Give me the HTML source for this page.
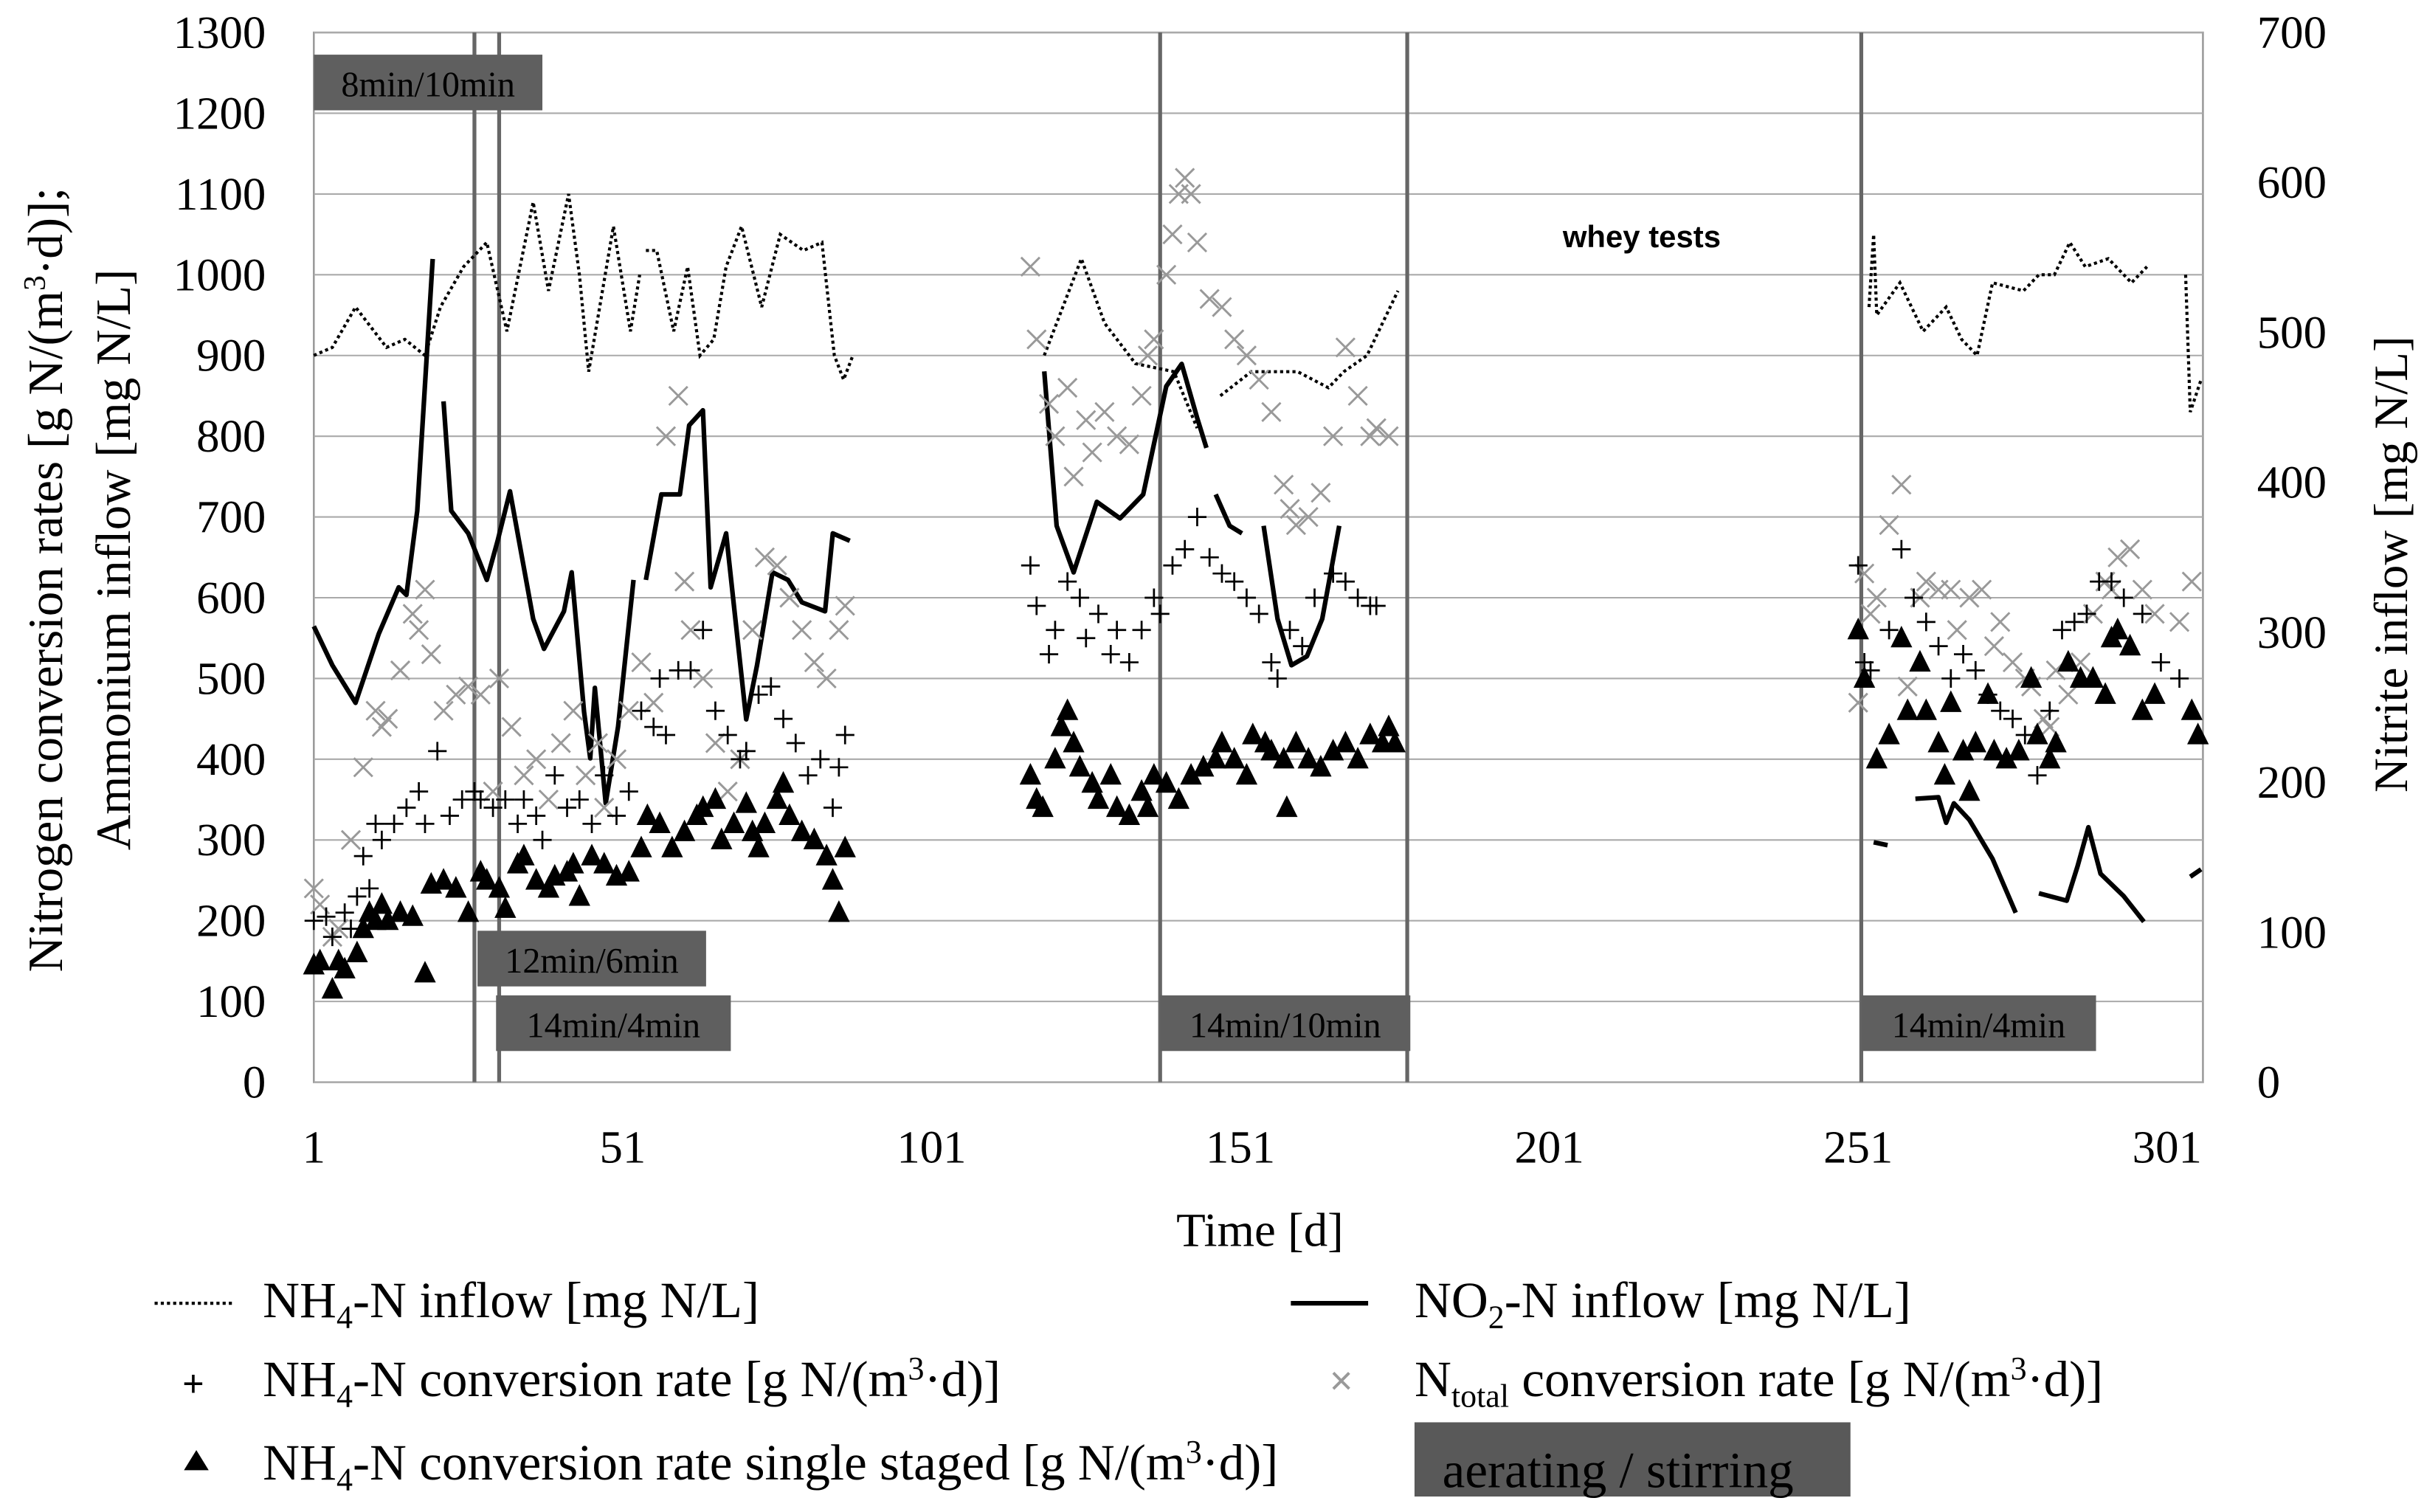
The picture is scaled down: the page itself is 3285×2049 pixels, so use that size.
<!DOCTYPE html>
<html><head><meta charset="utf-8"><style>
html,body{margin:0;padding:0;background:#fff;}
svg{display:block;font-family:"Liberation Serif",serif;}
</style></head><body>
<svg id="chart" width="3285" height="2049" viewBox="0 0 1568 978" xmlns="http://www.w3.org/2000/svg">
<g id="grid"></g>
<g id="phases"></g>
<g id="series"></g>
<g id="axes"></g>
<text x="1062" y="160" font-family="Liberation Sans,sans-serif" font-size="20" font-weight="bold" text-anchor="middle">whey tests</text>
<text x="815" y="806" font-size="31" text-anchor="middle">Time [d]</text>
<text transform="translate(40,375) rotate(-90)" font-size="32" text-anchor="middle">Nitrogen conversion rates [g N/(m<tspan dy="-11" font-size="20">3</tspan><tspan dy="11">·d)];</tspan></text>
<text transform="translate(84,362) rotate(-90)" font-size="32" text-anchor="middle">Ammonium inflow [mg N/L]</text>
<text transform="translate(1557,365) rotate(-90)" font-size="31" text-anchor="middle">Nitrite inflow [mg N/L]</text>
<g id="legend" font-size="33">
<g><line x1="100" y1="843" x2="150" y2="843" stroke="#000" stroke-width="2" stroke-dasharray="2,2"/><text x="170" y="852">NH<tspan dy="7" font-size="21">4</tspan><tspan dy="-7">-N inflow [mg N/L]</tspan></text></g>
<g><line x1="835" y1="843" x2="885" y2="843" stroke="#000" stroke-width="3"/><text x="915" y="852">NO<tspan dy="7" font-size="21">2</tspan><tspan dy="-7">-N inflow [mg N/L]</tspan></text></g>
<g><text x="118" y="903" font-family="Liberation Sans,sans-serif" font-size="24">+</text><text x="170" y="903">NH<tspan dy="7" font-size="21">4</tspan><tspan dy="-7">-N conversion rate [g N/(m</tspan><tspan dy="-11" font-size="21">3</tspan><tspan dy="11">·d)]</tspan></text></g>
<g><text x="860" y="902" fill="#999" font-family="Liberation Sans,sans-serif" font-size="26">×</text><text x="915" y="903">N<tspan dy="7" font-size="21">total</tspan><tspan dy="-7"> conversion rate [g N/(m</tspan><tspan dy="-11" font-size="21">3</tspan><tspan dy="11">·d)]</tspan></text></g>
<g><polygon points="127,938 119,951 135,951" fill="#000"/><text x="170" y="957">NH<tspan dy="7" font-size="21">4</tspan><tspan dy="-7">-N conversion rate single staged [g N/(m</tspan><tspan dy="-11" font-size="21">3</tspan><tspan dy="11">·d)]</tspan></text></g>
<g><rect x="915" y="920" width="282" height="48" fill="#595959"/><text x="933" y="962" fill="#000">aerating / stirring</text></g>
</g>
</svg>
<script>
const xTicks=[1,51,101,151,201,251,301];
const yTicksLeft=[0,100,200,300,400,500,600,700,800,900,1000,1100,1200,1300];
const yTicksRight=[0,100,200,300,400,500,600,700];
const phaseLines=[27,31,138,178,251.5];
const phaseBoxes=[["8min/10min",1,38,1240],["12min/6min",27.5,64.5,155],["14min/4min",30.5,68.5,75],["14min/10min",138,178.5,75],["14min/4min",251.5,289.5,75]];
const nh4InflowDays=[1,4,7.75,12.75,15.75,19,21.5,25.25,29,32.25,36.5,39,42.25,44,45.5,49.5,52.25,53.75,null,54.75,56.5,59.25,61.5,63.5,65.75,67.75,70.25,73.5,76.5,80.25,83.25,85.25,86.75,88.25,null,119.25,125.25,129,134,140.25,144,null,147.75,152.75,160.25,165.25,167.75,171.5,176.5,null,252.75,253.5,254,257.75,261.5,265.25,267.75,270.25,272.75,277.75,280.25,282.75,285.25,287.75,291.5,295.25,297.75,null,304,304.75,306.5];
const nh4InflowVals=[900,910,960,910,920,900,960,1010,1040,930,1090,980,1100,1000,880,1060,930,1000,null,1030,1030,930,1010,900,920,1010,1060,960,1050,1030,1040,900,870,900,null,900,1020,940,890,880,810,null,850,880,880,860,880,900,980,null,960,1050,950,990,930,960,920,900,990,980,1000,1000,1040,1010,1020,990,1010,null,1000,830,870];
const no2Days=[1,4,7.75,11.5,14.75,16,17.75,20.25,null,22,23.25,26,29,30.75,32.75,36.5,38.25,41.5,42.75,44.75,45.75,46.5,48.25,50.25,52.75,null,54.75,57.25,60.25,61.75,64,65.25,67.75,71,72.75,75.25,77.75,80,83.75,85,87.75,null,119.25,121.25,124,127.75,131.5,135.25,139,141.5,144,145.5,null,147,149.25,151.25,null,154.75,157,159.25,161.75,164.25,167,null,253.5,255.75,null,260.25,264,265.25,266.5,269,272.75,276.5,null,280.25,284.75,286.5,288.25,290.25,294,297.25,null,304.75,306.5];
const no2Vals=[304,278,253,299,330,325,381,549,null,454,381,366,335,361,394,309,289,314,340,247,216,263,186,237,335,null,335,392,392,438,448,330,366,242,278,340,335,320,314,366,361,null,474,371,340,387,376,392,464,479,443,423,null,392,371,366,null,371,309,278,284,309,371,null,160,158,null,189,190,173,186,175,149,113,null,126,121,144,170,139,124,107,null,137,142];
const triDays=[1,2,4,5,6,8,9,10,11,12,13,15,17,19,20,22,24,26,28,29,31,32,34,35,37,39,40,42,43,44,46,48,50,52,54,55,57,59,61,63,64,66,67,69,71,72,73,74,76,77,78,80,82,84,85,86,87,117,118,119,121,122,123,124,125,127,128,130,131,133,135,136,137,139,141,143,145,147,148,150,152,153,155,156,158,158.5,160,162,164,166,168,170,172,174,175,176,251,252,254,256,258,259,261,262,264,265,266,268,269,270,272,273,275,277,279,280,282,283,285,287,289,291,292,293,295,297,299,305,306];
const triVals=[145,150,115,150,140,160,190,210,200,220,200,210,205,135,245,250,240,210,260,250,240,215,270,280,250,240,255,260,270,230,280,270,255,260,290,330,320,290,310,330,340,350,300,320,345,310,290,320,350,370,330,310,300,280,250,210,290,380,350,340,400,440,460,420,390,370,350,380,340,330,360,340,380,370,350,380,390,400,420,400,380,430,420,410,400,340,420,400,390,410,420,400,430,420,440,420,560,500,400,430,550,460,520,460,420,380,470,410,360,420,480,410,400,410,500,430,400,420,520,500,500,480,550,560,540,460,480,460,430];
const plusDays=[1,3,4,6,7,8,9,10,11,12,14,16,18,19,21,23,25,27,28,30,32,34,35,37,38,40,42,44,46,48,50,52,54,56,57,58,60,62,64,66,68,70,71,73,75,77,79,81,83,85,86,87,117,118,120,121,123,125,126,128,130,131,133,135,137,138,140,142,144,146,148,150,152,154,156,157,159,161,163,166,168,170,172,173,251,252,253,256,258,260,262,264,266,268,270,272,274,276,278,280,282,284,286,288,290,292,294,297,300,303];
const plusVals=[200,205,180,210,190,230,280,240,320,300,320,340,360,320,410,330,350,360,350,340,350,320,350,330,300,380,340,350,320,380,330,360,460,440,500,430,510,510,560,460,430,400,410,480,490,450,420,380,400,340,390,430,640,590,530,560,620,600,550,580,530,560,520,560,600,580,640,660,700,650,630,620,600,580,520,500,560,540,600,630,620,600,590,590,640,520,510,560,660,600,570,540,500,530,510,480,460,450,430,380,460,560,570,580,620,620,600,580,520,500];
const xDays=[1,2,4,5,7,9,11,12,13,15,17,18,19,20,22,24,26,28,30,31,33,35,37,39,41,43,45,47,48,50,52,54,56,58,60,61,62,64,66,68,70,72,74,76,78,80,82,84,86,87,117,118,120,121,123,124,126,127,129,131,133,135,136,137,139,140,141,142,143,144,146,148,150,152,154,156,158,159,160,162,164,166,168,170,172,173,175,251,252,253,254,256,258,259,261,262,264,266,267,269,271,273,274,276,278,279,281,282,283,285,287,289,291,292,293,295,297,299,303,305];
const xVals=[240,220,180,190,300,390,460,440,450,510,580,560,610,530,460,480,490,480,360,500,440,380,400,350,420,460,380,420,340,400,460,520,470,800,850,620,560,500,420,360,400,560,650,640,600,560,520,500,560,590,1010,920,840,800,860,750,820,780,830,800,790,850,900,920,1000,1050,1100,1120,1100,1040,970,960,920,900,870,830,740,710,690,700,730,800,910,850,800,810,800,470,630,580,600,690,740,490,600,620,610,610,560,600,610,540,570,520,500,490,450,440,510,480,520,580,620,610,650,660,610,580,570,620];

const NS="http://www.w3.org/2000/svg";
const X0=203,PX=3.996,Y0=700,PY=0.5223,PYR=0.97;
function xS(d){return X0+(d-1)*PX;}
function yL(v){return Y0-v*PY;}
function yR(v){return Y0-v*PYR;}
function mk(tag,attrs,parent){const e=document.createElementNS(NS,tag);for(const k in attrs)e.setAttribute(k,attrs[k]);parent.appendChild(e);return e;}
const grid=document.getElementById('grid'),axes=document.getElementById('axes'),phases=document.getElementById('phases'),series=document.getElementById('series');

mk('rect',{x:X0,y:21,width:1222,height:679,fill:'none',stroke:'#999','stroke-width':1.2},grid);
yTicksLeft.forEach(v=>{
  const l=mk('line',{x1:X0,x2:1425,y1:yL(v),y2:yL(v),stroke:'#aaa','stroke-width':1},grid);
  
  
  const t=mk('text',{x:172,y:yL(v)+10,'font-size':30,'text-anchor':'end'},axes);t.textContent=v;
  
  
});
yTicksRight.forEach(v=>{
  const t=mk('text',{x:1460,y:yR(v)+10,'font-size':30},axes);t.textContent=v;
  
  
});
xTicks.forEach(d=>{
  const t=mk('text',{x:xS(d),y:752,'font-size':30,'text-anchor':'middle'},axes);t.textContent=d;
  
  
});
phaseLines.forEach(d=>{
  const l=mk('line',{x1:xS(d),x2:xS(d),y1:21,y2:700,stroke:'#666','stroke-width':2.5},phases);
  
  
});
phaseBoxes.forEach(b=>{
  const g=mk('g',{},phases);
  
  
  const y=yL(b[3]);
  mk('rect',{x:xS(b[1]),y:y-17,width:xS(b[2])-xS(b[1]),height:36,fill:'#5f5f5f'},g);
  const t=mk('text',{x:(xS(b[1])+xS(b[2]))/2,y:y+10,'font-size':23,'text-anchor':'middle',fill:'#000'},g);t.textContent=b[0];
});
function line(days,vals,yf,attrs,name){
  let d='',pen=false;
  for(let i=0;i<days.length;i++){
    if(days[i]===null||vals[i]===null){pen=false;continue;}
    d+=(pen?'L':'M')+xS(days[i]).toFixed(1)+','+yf(vals[i]).toFixed(1);pen=true;
  }
  const p=mk('path',Object.assign({d:d,fill:'none'},attrs),series);
  
  
}
line(nh4InflowDays,nh4InflowVals,yL,{stroke:'#000','stroke-width':2,'stroke-dasharray':'2,2'},'nh4-inflow-line');
line(no2Days,no2Vals,yR,{stroke:'#000','stroke-width':3,'stroke-linejoin':'round'},'no2-inflow-line');
xDays.forEach((d,i)=>{
  const x=xS(d),y=yL(xVals[i]);
  const p=mk('path',{d:`M${x-6},${y-6}L${x+6},${y+6}M${x-6},${y+6}L${x+6},${y-6}`,stroke:'#999','stroke-width':1.4},series);
  
  
});
plusDays.forEach((d,i)=>{
  const x=xS(d),y=yL(plusVals[i]);
  const p=mk('path',{d:`M${x-6},${y}L${x+6},${y}M${x},${y-6}L${x},${y+6}`,stroke:'#000','stroke-width':1.3},series);
  
  
});
triDays.forEach((d,i)=>{
  const x=xS(d),y=yL(triVals[i]);
  const p=mk('polygon',{points:`${x},${y-8} ${x-7},${y+6} ${x+7},${y+6}`,fill:'#000'},series);
  
  
});
</script>
</body></html>
